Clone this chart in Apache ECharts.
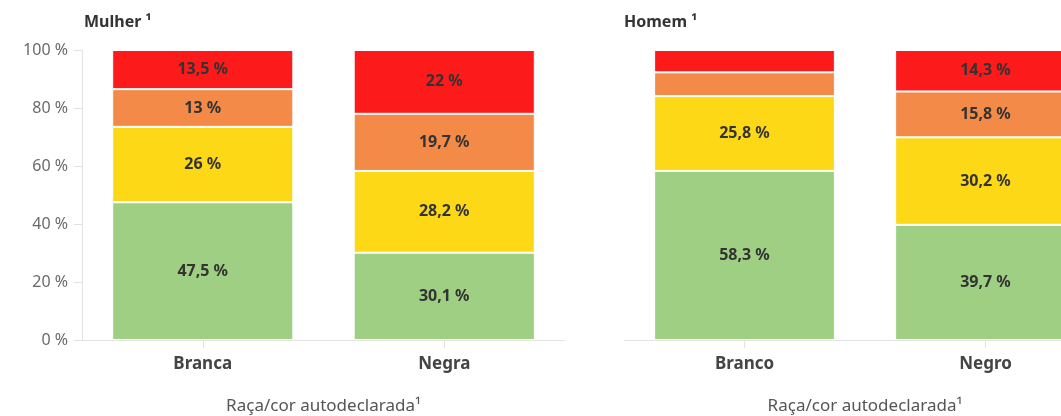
<!DOCTYPE html>
<html>
<head>
<meta charset="utf-8">
<script src="https://cdn.jsdelivr.net/npm/echarts@6/dist/echarts.min.js"></script>
<style>
html,body{margin:0;padding:0;background:#fff;}
#chart{width:1061px;height:416px;}
</style>
</head>
<body>
<div id="chart"></div>
<script>
// Data
const categoriesMulher = ['Branca', 'Negra'];
const categoriesHomem = ['Branco', 'Negro'];
const segmentColors = ['#9ecf82', '#fdd817', '#f48a48', '#fc1a1a'];
// segments bottom to top
const mulherGreen = [47.5, 30.1];
const mulherYellow = [26, 28.2];
const mulherOrange = [13, 19.7];
const mulherRed = [13.5, 22];
const homemGreen = [58.3, 39.7];
const homemYellow = [25.8, 30.2];
const homemOrange = [8.2, 15.8];
const homemRed = [7.7, 14.3];
const yTicks = [0, 20, 40, 60, 80, 100];
const axisName = 'Raça/cor autodeclarada¹';

const FONT = '"Noto Sans", Lato, sans-serif';

function fmt(v) { return String(v).replace('.', ',') + ' %'; }

function seriesFor(data, colorIdx, axisIdx) {
  return {
    type: 'bar',
    stack: 'g' + axisIdx,
    xAxisIndex: axisIdx,
    yAxisIndex: axisIdx,
    barWidth: '75%',
    data: data,
    itemStyle: { color: segmentColors[colorIdx], borderColor: '#fff', borderWidth: 1 },
    label: {
      show: true,
      position: 'inside',
      fontFamily: FONT,
      fontWeight: 'bold',
      fontSize: 16,
      color: '#333',
      formatter: p => (p.value >= 10 ? fmt(p.value) : '')
    },
    emphasis: { disabled: true }
  };
}

const xAxisCommon = {
  type: 'category',
  axisLine: { lineStyle: { color: '#e3e3e3', width: 1 } },
  axisTick: { show: true, alignWithLabel: true, length: 8, lineStyle: { color: '#e3e3e3' } },
  axisLabel: { fontFamily: FONT, fontWeight: 'bold', fontSize: 17, color: '#444', margin: 16 },
  name: axisName,
  nameLocation: 'middle',
  nameGap: 58,
  nameTextStyle: { fontFamily: FONT, fontSize: 17, color: '#555' }
};

const chart = echarts.init(document.getElementById('chart'));
chart.setOption({
  animation: false,
  title: [
    { text: 'Mulher ¹', left: 79, top: 9, textStyle: { fontFamily: FONT, fontWeight: 'bold', fontSize: 16, color: '#333' } },
    { text: 'Homem ¹', left: 619, top: 9, textStyle: { fontFamily: FONT, fontWeight: 'bold', fontSize: 16, color: '#333' } }
  ],
  grid: [
    { left: 82, width: 483, top: 50, height: 290, outerBoundsMode: 'none', containLabel: false },
    { left: 624, width: 482, top: 50, height: 290, outerBoundsMode: 'none', containLabel: false }
  ],
  xAxis: [
    Object.assign({}, xAxisCommon, { gridIndex: 0, data: categoriesMulher }),
    Object.assign({}, xAxisCommon, { gridIndex: 1, data: categoriesHomem })
  ],
  yAxis: [
    {
      gridIndex: 0, type: 'value', min: 0, max: 100, interval: 20,
      axisLine: { show: true, lineStyle: { color: '#e3e3e3' } },
      axisTick: { show: true, length: 8, lineStyle: { color: '#e3e3e3' } },
      splitLine: { show: false },
      axisLabel: {
        fontFamily: FONT, fontSize: 16, color: '#6a6a6a', margin: 14,
        formatter: v => (yTicks.indexOf(v) >= 0 ? v + ' %' : '')
      }
    },
    {
      gridIndex: 1, type: 'value', min: 0, max: 100, interval: 20,
      axisLine: { show: false }, axisTick: { show: false },
      splitLine: { show: false }, axisLabel: { show: false }
    }
  ],
  series: [
    seriesFor(mulherGreen, 0, 0),
    seriesFor(mulherYellow, 1, 0),
    seriesFor(mulherOrange, 2, 0),
    seriesFor(mulherRed, 3, 0),
    seriesFor(homemGreen, 0, 1),
    seriesFor(homemYellow, 1, 1),
    seriesFor(homemOrange, 2, 1),
    seriesFor(homemRed, 3, 1)
  ]
});
</script>
</body>
</html>
